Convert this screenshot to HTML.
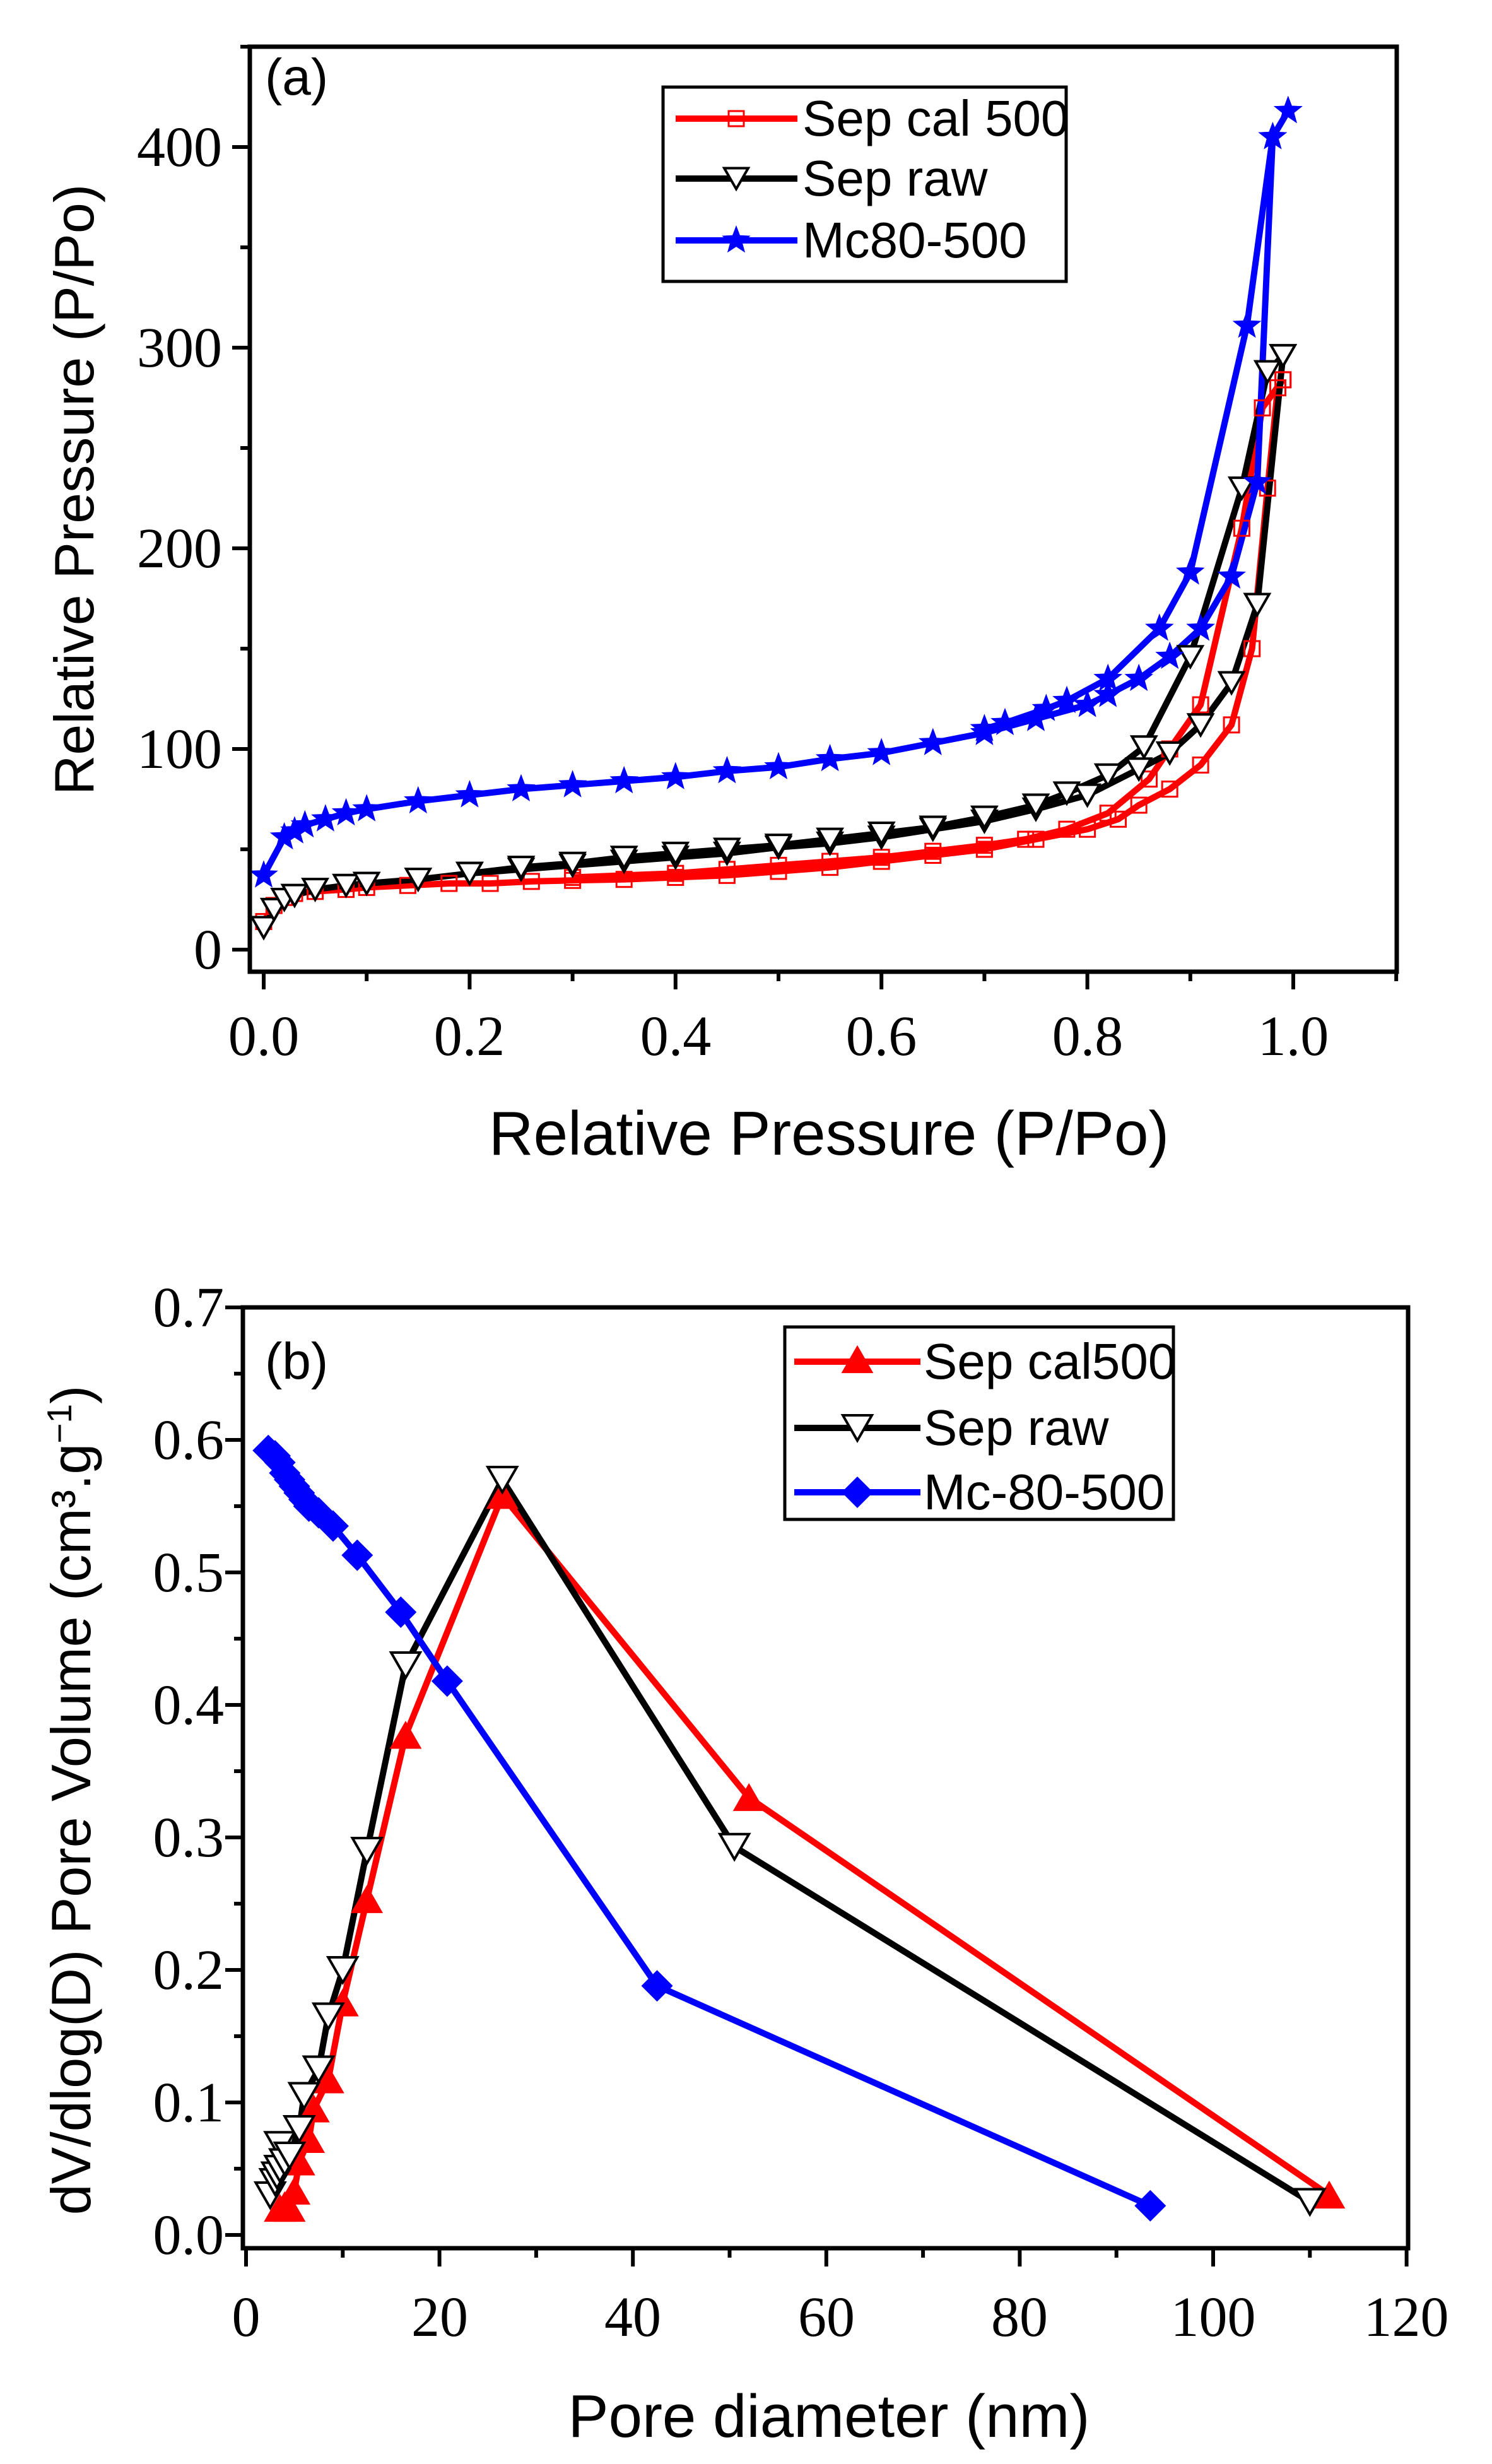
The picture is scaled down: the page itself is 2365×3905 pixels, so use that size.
<!DOCTYPE html>
<html><head><meta charset="utf-8"><style>
html,body{margin:0;padding:0;background:#fff}
svg{display:block}
.t{font-family:"Liberation Serif",serif;font-size:90px}
.s{font-family:"Liberation Sans",sans-serif}
</style></head><body>
<svg id="c" width="2365" height="3905" xmlns="http://www.w3.org/2000/svg">
<rect width="2365" height="3905" fill="#fff"/>
<g id="plots"></g>
<!-- Panel a frame -->
<rect x="396" y="74" width="1818" height="1466" fill="none" stroke="#000" stroke-width="7"/>
<g class="t" text-anchor="middle">
<text x="418" y="1672">0.0</text><text x="744" y="1672">0.2</text><text x="1071" y="1672">0.4</text><text x="1397" y="1672">0.6</text><text x="1724" y="1672">0.8</text><text x="2050" y="1672">1.0</text>
</g>
<g class="t" text-anchor="end">
<text x="352" y="1535">0</text><text x="352" y="1217">100</text><text x="352" y="899">200</text><text x="352" y="581">300</text><text x="352" y="263">400</text>
</g>
<text class="s" x="1314" y="1830" font-size="98" text-anchor="middle">Relative Pressure (P/Po)</text>
<text class="s" font-size="88" text-anchor="middle" transform="translate(148,776) rotate(-90)">Relative Pressure (P/Po)</text>
<text class="s" x="420" y="150" font-size="82">(a)</text>
<rect x="1051" y="138" width="639" height="308" fill="#fff" stroke="#000" stroke-width="5"/>
<g class="s" font-size="80">
<text x="1272" y="215">Sep cal 500</text><text x="1272" y="310">Sep raw</text><text x="1272" y="408">Mc80-500</text>
</g>
<!-- Panel b frame -->
<rect x="385" y="2072" width="1847" height="1491" fill="none" stroke="#000" stroke-width="7"/>
<g class="t" text-anchor="middle">
<text x="390" y="3702">0</text><text x="697" y="3702">20</text><text x="1003" y="3702">40</text><text x="1310" y="3702">60</text><text x="1616" y="3702">80</text><text x="1923" y="3702">100</text><text x="2229" y="3702">120</text>
</g>
<g class="t" text-anchor="end">
<text x="355" y="3572">0.0</text><text x="355" y="3362">0.1</text><text x="355" y="3152">0.2</text><text x="355" y="2942">0.3</text><text x="355" y="2732">0.4</text><text x="355" y="2522">0.5</text><text x="355" y="2312">0.6</text><text x="355" y="2102">0.7</text>
</g>
<text class="s" x="1314" y="3862" font-size="96" text-anchor="middle">Pore diameter (nm)</text>
<text class="s" font-size="88" text-anchor="middle" transform="translate(143,2853) rotate(-90)">dV/dlog(D) Pore Volume (cm³.g<tspan dy="-30" font-size="55">−1</tspan><tspan dy="30">)</tspan></text>
<text class="s" x="420" y="2185" font-size="82">(b)</text>
<rect x="1244" y="2103" width="616" height="305" fill="#fff" stroke="#000" stroke-width="5"/>
<g class="s" font-size="80">
<text x="1464" y="2185">Sep cal500</text><text x="1464" y="2290">Sep raw</text><text x="1464" y="2392">Mc-80-500</text>
</g>
<g id="leg"></g>
</svg>
<script>
var NS="http://www.w3.org/2000/svg",G=document.getElementById('plots');
function el(t,a){var e=document.createElementNS(NS,t);for(var k in a)e.setAttribute(k,a[k]);G.appendChild(e);return e;}
function star(cx,cy,r,col){var p=[];for(var i=0;i<10;i++){var rr=i%2?r*0.42:r,a=-Math.PI/2+i*Math.PI/5;p.push((cx+rr*Math.cos(a)).toFixed(1)+','+(cy+rr*Math.sin(a)).toFixed(1));}el('polygon',{points:p.join(' '),fill:col});}
function sq(cx,cy,s,col){el('rect',{x:cx-s/2,y:cy-s/2,width:s,height:s,fill:'#fff','fill-opacity':0,stroke:col,'stroke-width':3});}
function tri(cx,cy,s,down,fill,stroke){var h=s*0.87;var p=down?[[cx-s/2,cy-h/2],[cx+s/2,cy-h/2],[cx,cy+h/2]]:[[cx-s/2,cy+h/2],[cx+s/2,cy+h/2],[cx,cy-h/2]];el('polygon',{points:p.map(function(q){return q.join(',')}).join(' '),fill:fill,stroke:stroke,'stroke-width':4});}
function dia(cx,cy,s,col){el('polygon',{points:[cx,cy-s/2,cx+s/2,cy,cx,cy+s/2,cx-s/2,cy].join(' '),fill:col});}
function ax(x){return 418+x*1632}function ay(y){return 1505-y*3.18}
function line(pts,fx,fy,col){el('polyline',{points:pts.map(function(p){return fx(p[0]).toFixed(1)+','+fy(p[1]).toFixed(1)}).join(' '),fill:'none',stroke:col,'stroke-width':10,'stroke-linejoin':'round'});}
var rA=[[0,14],[0.01,22],[0.02,26],[0.03,28],[0.05,29],[0.08,30],[0.1,31],[0.14,32],[0.18,33],[0.22,33],[0.26,34],[0.3,34.5],[0.35,35],[0.4,36],[0.45,37],[0.5,39],[0.55,41],[0.6,44],[0.65,47],[0.7,50],[0.75,55],[0.8,60],[0.83,65],[0.85,72],[0.88,80],[0.91,92],[0.94,112],[0.96,150],[0.975,230],[0.985,280],[0.99,284]];
var rD=[[0.99,284],[0.97,270],[0.95,210],[0.91,122],[0.88,100],[0.86,85],[0.82,68],[0.78,60],[0.74,55],[0.7,52],[0.65,49],[0.6,46],[0.55,44],[0.5,42],[0.45,40],[0.4,38],[0.3,36]];
var kA=[[0,11],[0.01,20],[0.02,25],[0.03,27],[0.05,30],[0.08,32],[0.1,33],[0.15,35],[0.2,38],[0.25,40],[0.3,42],[0.35,44],[0.4,46],[0.45,48],[0.5,51],[0.55,53],[0.6,56],[0.65,60],[0.7,64],[0.75,70],[0.8,77],[0.85,90],[0.88,98],[0.91,112],[0.94,133],[0.965,172],[0.99,296]];
var kD=[[0.99,296],[0.975,288],[0.95,230],[0.9,146],[0.855,101],[0.82,87],[0.78,78],[0.75,72],[0.7,66],[0.65,61],[0.6,58],[0.55,55],[0.5,52],[0.45,50],[0.4,48],[0.35,46],[0.3,43],[0.25,41],[0.2,38]];
var bA=[[0,37],[0.02,56],[0.03,59],[0.04,62],[0.06,65],[0.08,68],[0.1,70],[0.15,74],[0.2,77],[0.25,80],[0.3,82],[0.35,84],[0.4,86],[0.45,89],[0.5,91],[0.55,95],[0.6,98],[0.65,103],[0.7,108],[0.75,115],[0.8,122],[0.82,127],[0.85,135],[0.88,146],[0.91,160],[0.94,186],[0.965,233],[0.98,405],[0.995,418]];
var bD=[[0.995,418],[0.98,405],[0.955,311],[0.9,188],[0.87,160],[0.82,135],[0.78,124],[0.76,120],[0.72,113],[0.7,110]];
line(rA,ax,ay,'#f00');line(rD,ax,ay,'#f00');
line(kA,ax,ay,'#000');line(kD,ax,ay,'#000');
line(bA,ax,ay,'#00f');line(bD,ax,ay,'#00f');
rA.concat(rD).forEach(function(p){sq(ax(p[0]),ay(p[1]),24,'#f00')});
kA.concat(kD).forEach(function(p){tri(ax(p[0]),ay(p[1]),38,true,'#fff','#000')});
bA.concat(bD).forEach(function(p){star(ax(p[0]),ay(p[1]),24,'#00f')});
for(var i=0;i<=11;i++){var x=ax(i/10);el('line',{x1:x,y1:1540,x2:x,y2:i%2?1555:1568,stroke:'#000','stroke-width':6});}
for(var v=0;v<=450;v+=50){var y=ay(v);el('line',{x1:396,y1:y,x2:v%100?381:368,y2:y,stroke:'#000','stroke-width':6});}
function bx(x){return 390+x*15.33}function by(y){return 3542-y*2100}
var R=[[3.5,0.02],[4,0.022],[4.5,0.02],[5,0.033],[5.5,0.055],[6.5,0.072],[7,0.095],[8.5,0.117],[10,0.175],[12.5,0.253],[16.5,0.377],[26.5,0.558],[52,0.33],[112,0.03]];
var K=[[2.5,0.03],[3,0.04],[3.2,0.045],[3.5,0.05],[3.5,0.068],[4,0.055],[4.5,0.06],[5.5,0.08],[6,0.105],[7.5,0.125],[8.5,0.165],[10,0.2],[12.5,0.29],[16.5,0.43],[26.5,0.57],[50.5,0.293],[110,0.025]];
var B=[[2.3,0.592],[3,0.588],[3.5,0.583],[4,0.575],[4.5,0.57],[5,0.565],[5.5,0.56],[6,0.555],[6.5,0.55],[7.5,0.545],[9,0.535],[11.5,0.513],[16,0.47],[20.8,0.418],[42.5,0.188],[93.5,0.022]];
line(R,bx,by,'#f00');line(K,bx,by,'#000');line(B,bx,by,'#00f');
R.forEach(function(p){tri(bx(p[0]),by(p[1]),44,false,'#f00','#f00')});
K.forEach(function(p){tri(bx(p[0]),by(p[1]),46,true,'#fff','#000')});
B.forEach(function(p){dia(bx(p[0]),by(p[1]),50,'#00f')});
for(var v=0;v<=120;v+=10){var x=bx(v);el('line',{x1:x,y1:3563,x2:x,y2:v%20?3578:3592,stroke:'#000','stroke-width':6});}
for(var i=0;i<=14;i++){var y=by(i*0.05);el('line',{x1:385,y1:y,x2:i%2?371:357,y2:y,stroke:'#000','stroke-width':6});}
// legends on top
G=document.getElementById('leg');
el('line',{x1:1071,y1:188,x2:1264,y2:188,stroke:'#f00','stroke-width':10});sq(1167,188,24,'#f00');
el('line',{x1:1071,y1:283,x2:1264,y2:283,stroke:'#000','stroke-width':10});tri(1167,283,38,true,'#fff','#000');
el('line',{x1:1071,y1:381,x2:1264,y2:381,stroke:'#00f','stroke-width':10});star(1167,381,24,'#00f');
el('line',{x1:1259,y1:2158,x2:1459,y2:2158,stroke:'#f00','stroke-width':10});tri(1359,2155,44,false,'#f00','#f00');
el('line',{x1:1259,y1:2263,x2:1459,y2:2263,stroke:'#000','stroke-width':10});tri(1359,2263,46,true,'#fff','#000');
el('line',{x1:1259,y1:2365,x2:1459,y2:2365,stroke:'#00f','stroke-width':10});dia(1359,2365,50,'#00f');
</script>
</body></html>
